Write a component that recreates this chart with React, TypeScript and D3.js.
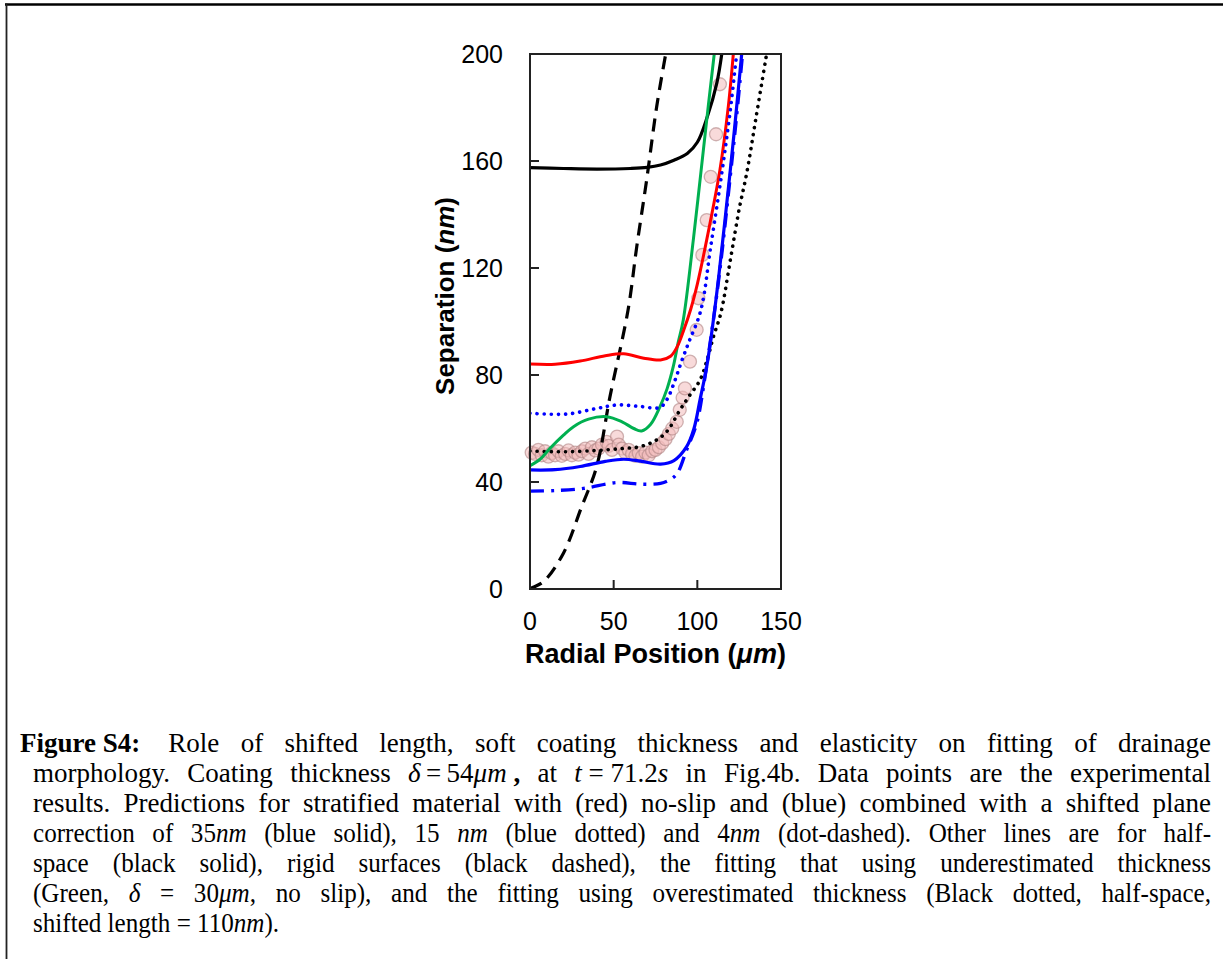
import React, { useMemo } from 'react';
import * as d3 from 'd3';

type P = [number, number];

const X_TICKS = [0, 50, 100, 150];
const Y_TICKS = [0, 40, 80, 120, 160, 200];

// Half-space (black solid)
const halfSpace: P[] = [[0,157.5],[20,157.2],[40,157],[60,157.2],[70,157.6],[78,158.5],[86,160.3],[94,162.8],[100,167],[106,176.6],[111.6,189],[114.6,200]];
// Rigid surfaces (black dashed)
const rigid: P[] = [[0,0],[1,0.4],[8,2.7],[19.9,13.3],[30.9,30.8],[39.8,45.7],[47.8,71.9],[58.6,104.3],[63.8,128],[69.7,152.9],[75.7,180.3],[81.1,200]];
// No-slip stratified (red)
const noSlip: P[] = [[0,84.1],[15,84],[30,85.2],[45,87.2],[56,87.9],[68,86.3],[78,85.6],[84,87],[88,90.6],[92,97],[96,104.5],[100,114],[105.6,130.5],[113.5,156.6],[118.5,180.3],[121.5,200]];
// Underestimated thickness (green)
const underEst: P[] = [[0,46.1],[6,48.5],[12,52.6],[20,57.5],[26,60.7],[35,63.5],[45.8,64.4],[55,62.5],[62,60],[66.7,59.1],[72,61.5],[77.7,68.2],[82,75],[85.6,83.1],[88.5,92],[91.6,100.6],[97.6,130.5],[102,155],[106.5,180.3],[110.1,200]];
// Shifted plane 35 nm (blue solid)
const shift35: P[] = [[0,44.5],[15,44.6],[30,45.8],[45,47.7],[56,48.5],[66,47.8],[78,46.7],[86,48],[93.6,53.2],[98,60],[101.6,70.7],[105.6,83.1],[109.6,100.6],[113,118],[119.5,155.4],[123,177],[126.5,200]];
// Shifted plane 15 nm (blue dotted)
const shift15: P[] = [[0,65.7],[22,65.4],[40,67.5],[52,68.8],[65,68.3],[77.7,67.9],[82,71],[86.7,78.1],[90.5,85],[94.6,91.8],[102,104],[108,128],[114.6,155.4],[119.5,178],[123.5,200]];
// Shifted plane 4 nm (blue dot-dashed)
const shift4: P[] = [[0,36.6],[15,36.8],[32,37.6],[52,39.8],[66,39.2],[78,39.5],[84,41],[88,43.2],[93.6,52],[99.6,61.9],[104.6,79.4],[109.6,100.6],[114,122],[119.8,155],[123.5,177],[127,200]];
// Overestimated thickness (black dotted)
const overEst: P[] = [[0,51.6],[20,51.3],[40,51.8],[55,52.5],[65.7,53.2],[75,55.5],[81.7,58.8],[89.6,66.9],[95,72],[101.6,78.1],[106,86],[109.6,94.3],[114,103],[120,124],[125,142],[129.5,155.4],[135,176],[141.4,200]];
// Experimental data points
const experiment: P[] = [[1,51],[3,50.5],[5,52],[7,50],[9,51.5],[11,49.5],[13,50.8],[15,50],[17,51.5],[19,49.8],[21,50.5],[23,51.8],[25,50],[27,51],[29,50.2],[31,51.5],[33,52.5],[35,50.5],[37,53],[39,51.8],[41,52.5],[43,54],[45.8,55],[47,53.5],[49,52],[52,57],[53,54],[55,52.5],[57,51],[59,52],[61,50.5],[63,49.8],[65,50.8],[67,49.5],[69,51],[71,50],[73,51.5],[75,52],[77,53],[79,54.5],[81,56],[83,58],[85,60],[87.7,62.5],[89.5,67],[91.2,71.5],[92.6,75],[95.6,85],[99.6,96.9],[100.6,108.7],[103,124.9],[105.6,137.9],[108,154.1],[111.2,170],[113.5,188.7]];

const CAPTION: string[] = [
  "^Figure\u00A0S4:^\u00A0 Role of shifted length, soft coating thickness and elasticity on fitting of drainage",
  "morphology. Coating thickness _\u03B4_\u2009=\u200954_\u03BCm_\u00A0^,^ at _t_\u00A0=\u00A071.2_s_ in Fig.4b. Data points are the experimental",
  "results. Predictions for stratified material with (red) no-slip and (blue) combined with a shifted plane",
  "correction of 35_nm_ (blue solid), 15 _nm_ (blue dotted) and 4_nm_ (dot-dashed). Other lines are for half-",
  "space (black solid), rigid surfaces (black dashed), the fitting that using underestimated thickness",
  "(Green, _\u03B4_ = 30_\u03BCm_, no slip), and the fitting using overestimated thickness (Black dotted, half-space,",
  "shifted length = 110_nm_).",
];

type Seg = { t: string; i: boolean; b: boolean };

function parseLine(s: string): Seg[][] {
  const words: Seg[][] = [];
  let cur: Seg[] = [];
  let it = false, bd = false, buf = '';
  const flush = () => { if (buf) { cur.push({ t: buf, i: it, b: bd }); buf = ''; } };
  for (const ch of s) {
    if (ch === '_') { flush(); it = !it; }
    else if (ch === '^') { flush(); bd = !bd; }
    else if (ch === ' ') { flush(); if (cur.length) words.push(cur); cur = []; }
    else buf += ch;
  }
  flush();
  if (cur.length) words.push(cur);
  return words;
}

const W = 1223, H = 959;
const PL = 530, PR = 781, PT = 54, PB = 589;
const SERIF = '"Liberation Serif", "Times New Roman", serif';
const SANS = '"Liberation Sans", Arial, sans-serif';

export default function App() {
  const x = d3.scaleLinear().domain([0, 150]).range([PL, PR]);
  const y = d3.scaleLinear().domain([0, 200]).range([PB, PT]);
  const line = d3.line<P>().x(d => x(d[0])).y(d => y(d[1])).curve(d3.curveCatmullRom.alpha(0.5));

  const caption = useMemo(() => {
    const canvas = document.createElement('canvas');
    const ctx = canvas.getContext('2d')!;
    return CAPTION.map((ln, li) => {
      const fs = 27;
      const baseSx = li < 3 ? 1 : 0.93;
      const measure = (sg: Seg) => {
        ctx.font = `${sg.i ? 'italic ' : ''}${sg.b ? 'bold ' : ''}${fs}px ${SERIF}`;
        return ctx.measureText(sg.t).width;
      };
      const words = parseLine(ln);
      const nat = words.map(w => w.reduce((a, sg) => a + measure(sg), 0));
      const x0 = li === 0 ? 20 : 33;
      const x1 = 1211;
      let sx = baseSx;
      const natSum = nat.reduce((a, b) => a + b, 0);
      const justify = li < CAPTION.length - 1;
      let gap = fs * 0.25 * sx;
      if (justify) {
        gap = (x1 - x0 - natSum * sx) / (words.length - 1);
        if (gap < fs * 0.2) {
          gap = fs * 0.2;
          sx = (x1 - x0 - gap * (words.length - 1)) / natSum;
        }
      }
      let cx = x0;
      const items = words.map((w, k) => {
        const item = { segs: w, x: cx, w: nat[k] * sx };
        cx += nat[k] * sx + gap;
        return item;
      });
      return { items, y: 752 + li * 30, sx, fs };
    });
  }, []);

  const clipId = 'plotclip';

  return (
    <svg width={W} height={H} style={{ position: 'absolute', left: 0, top: 0, background: '#fff' }}>
      <rect x={0} y={0} width={W} height={H} fill="#fff" />
      {/* page frame */}
      <line x1={5} x2={W} y1={4.5} y2={4.5} stroke="#000" strokeWidth={2.5} />
      <line x1={6.5} x2={6.5} y1={3.5} y2={H} stroke="#222" strokeWidth={1.8} />

      <defs>
        <clipPath id={clipId}>
          <rect x={PL} y={PT} width={PR - PL} height={PB - PT} />
        </clipPath>
      </defs>

      {/* data points */}
      <g>
        {experiment.map((d, i) => (
          <circle key={i} cx={x(d[0])} cy={y(d[1])} r={6.5} fill="#f2bcbc" fillOpacity={0.55} stroke="#b08585" strokeOpacity={0.6} strokeWidth={1.3} />
        ))}
      </g>

      <g clipPath={`url(#${clipId})`} fill="none">
        <path d={line(rigid)!} stroke="#000" strokeWidth={3.2} strokeDasharray="13 8" />
        <path d={line(halfSpace)!} stroke="#000" strokeWidth={3.2} />
        <path d={line(overEst)!} stroke="#000" strokeWidth={3.6} strokeDasharray="0.1 7" strokeLinecap="round" />
        <path d={line(underEst)!} stroke="#00b050" strokeWidth={3} />
        <path d={line(noSlip)!} stroke="#ff0000" strokeWidth={3} />
        <path d={line(shift15)!} stroke="#0000ff" strokeWidth={3.6} strokeDasharray="0.1 7" strokeLinecap="round" />
        <path d={line(shift4)!} stroke="#0000ff" strokeWidth={3.4} strokeDasharray="14 7 3 7" />
        <path d={line(shift35)!} stroke="#0000ff" strokeWidth={3.2} />
      </g>

      {/* axes frame */}
      <rect x={PL} y={PT} width={PR - PL} height={PB - PT} fill="none" stroke="#222" strokeWidth={2} />
      {Y_TICKS.map(t => (
        <g key={'y' + t}>
          <line x1={PL} x2={PL + 9} y1={y(t)} y2={y(t)} stroke="#222" strokeWidth={2} />
          <text x={503} y={y(t)} dy="0.36em" textAnchor="end" fontFamily={SANS} fontSize={25} fill="#000">{t}</text>
        </g>
      ))}
      {X_TICKS.map(t => (
        <g key={'x' + t}>
          <line x1={x(t)} x2={x(t)} y1={PB} y2={PB - 9} stroke="#222" strokeWidth={2} />
          <text x={x(t)} y={630} textAnchor="middle" fontFamily={SANS} fontSize={25} fill="#000">{t}</text>
        </g>
      ))}
      <text x={(PL + PR) / 2} y={663} textAnchor="middle" fontFamily={SANS} fontSize={27} fontWeight="bold" fill="#000">
        Radial Position (<tspan fontStyle="italic">{'\u03BCm'}</tspan>)
      </text>
      <text transform="translate(454,296) rotate(-90)" textAnchor="middle" fontFamily={SANS} fontSize={26} fontWeight="bold" fill="#000">
        Separation (<tspan fontStyle="italic">nm</tspan>)
      </text>

      {/* caption */}
      <g fontFamily={SERIF} fill="#000">
        {caption.map((ln, li) => (
          <g key={li} fontSize={ln.fs}>
            {ln.items.map((it, k) => (
              <text key={k} x={it.x} y={ln.y} {...(ln.sx !== 1 ? { textLength: it.w, lengthAdjust: 'spacingAndGlyphs' } : {})}>
                {it.segs.map((sg, j) => (
                  <tspan key={j} fontStyle={sg.i ? 'italic' : 'normal'} fontWeight={sg.b ? 'bold' : 'normal'}>{sg.t}</tspan>
                ))}
              </text>
            ))}
          </g>
        ))}
      </g>
    </svg>
  );
}
